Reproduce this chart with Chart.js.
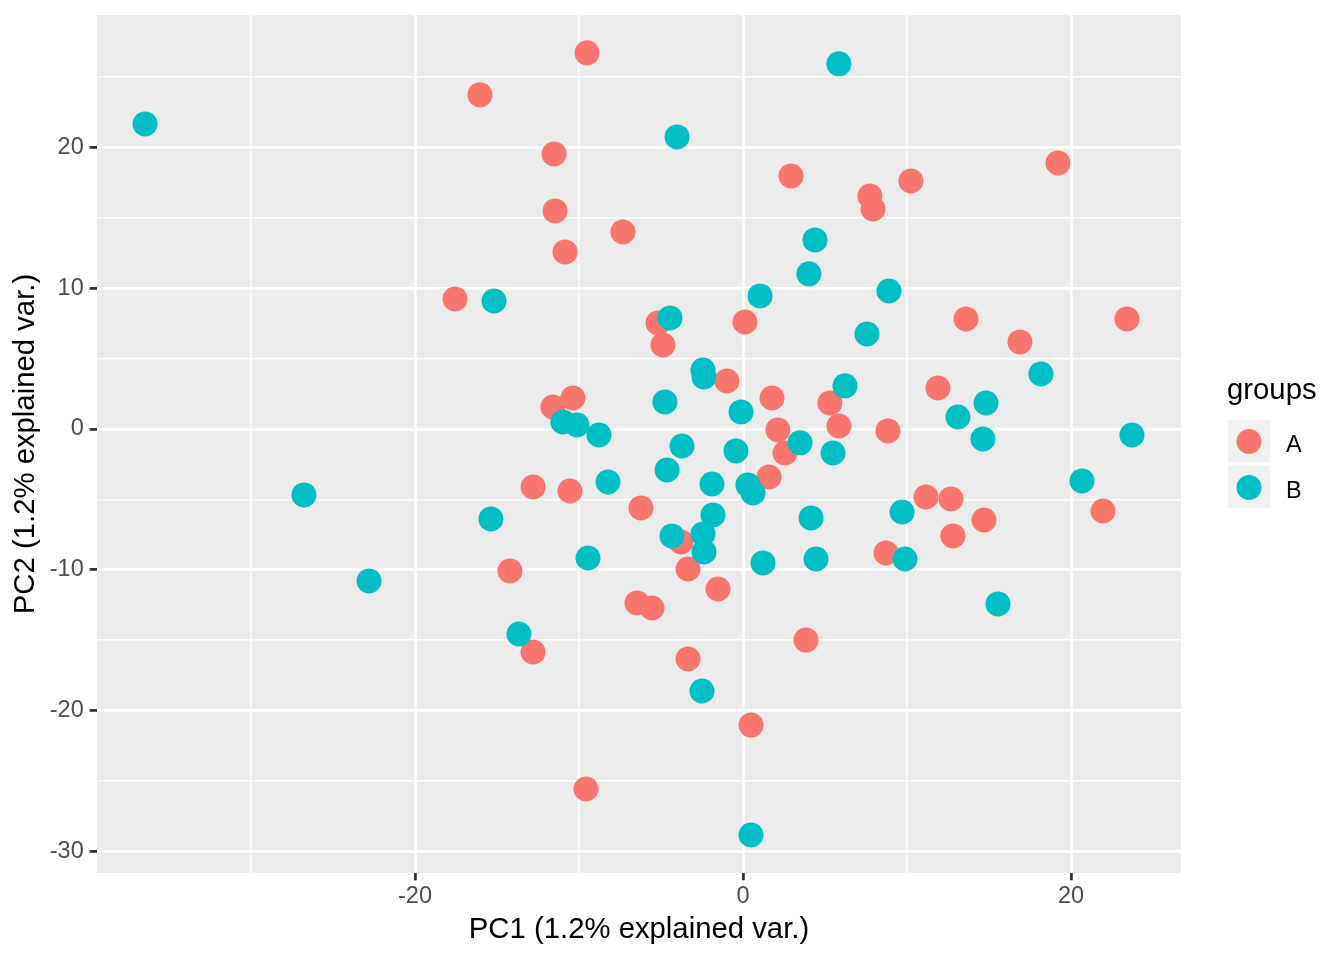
<!DOCTYPE html>
<html>
<head>
<meta charset="utf-8">
<title>PCA groups</title>
<script src="https://cdn.jsdelivr.net/npm/chart.js@4.4.1/dist/chart.umd.min.js"></script>
<style>
	body { margin: 0; background: #fff; }
	canvas { display: block; }
</style>
</head>
<body>
<canvas id="pcaPlot" width="1344" height="960"></canvas>
<script>
'use strict'

// group A (red)
const pc1A = [-9.51, -16.04, -11.52, -11.46, -10.85, -7.32, -17.56, -5.18, -4.88, 0.12,
	2.93, 7.74, 7.93, 10.24, 19.21, 13.60, 16.89, 23.41, -0.98, 1.77,
	5.30, 2.13, 5.85, 2.56, 8.84, 11.89, 1.59, -11.59, -10.37, -12.80,
	-10.55, -6.22, -3.78, -3.35, -1.52, -14.21, -6.46, -5.55, -12.80, -3.35,
	3.84, 0.49, -9.57, 11.16, 12.68, 12.80, 14.70, 8.72, 21.95];
const pc2A = [26.72, 23.74, 19.54, 15.49, 12.58, 14.00, 9.24, 7.53, 5.97, 7.60,
	17.98, 16.55, 15.63, 17.62, 18.90, 7.82, 6.18, 7.82, 3.41, 2.20,
	1.85, -0.07, 0.21, -1.71, -0.14, 2.91, -3.41, 1.56, 2.20, -4.12,
	-4.41, -5.61, -8.03, -9.95, -11.37, -10.09, -12.36, -12.72, -15.85, -16.34,
	-15.00, -21.04, -25.58, -4.83, -4.97, -7.60, -6.47, -8.81, -5.83];

// group B (teal)
const pc1B = [-36.46, 5.85, -4.02, 4.39, 4.02, 1.04, 8.90, 7.56, -4.45, -15.18,
	-2.44, -2.38, 6.22, 18.17, 14.82, 13.11, 14.63, 23.72, -4.76, -0.12,
	-10.98, -10.12, -8.78, -3.72, -0.43, 3.48, 5.49, -4.63, -8.23, -1.89,
	0.30, 0.61, -1.83, -15.37, -26.77, -22.80, -9.45, -4.33, -2.44, -2.38,
	1.22, 4.15, 4.45, 9.70, 9.88, 20.67, 15.55, -13.66, -2.50, 0.49];
const pc2B = [21.67, 25.94, 20.75, 13.43, 11.02, 9.45, 9.80, 6.75, 7.89, 9.09,
	4.19, 3.69, 3.06, 3.91, 1.85, 0.85, -0.71, -0.43, 1.92, 1.21,
	0.50, 0.28, -0.43, -1.21, -1.56, -0.99, -1.71, -2.91, -3.77, -3.91,
	-3.98, -4.55, -6.11, -6.39, -4.69, -10.80, -9.17, -7.60, -7.46, -8.74,
	-9.52, -6.32, -9.24, -5.90, -9.24, -3.69, -12.43, -14.57, -18.62, -28.85];

const groupNames = ['A', 'B'];
const groupColors = ['#F8766D', '#00BFC4'];

const fontFamily = '"Liberation Sans", Arial, sans-serif';
Chart.defaults.font.family = fontFamily;

const toPoints = (xs, ys) => xs.map((x, i) => ({x: x, y: ys[i]}));

const panelBackground = {
	id: 'panelBackground',
	beforeDraw(chart) {
		const {ctx, chartArea: {left, top, width, height}} = chart;
		ctx.save();
		ctx.fillStyle = '#FFFFFF';
		ctx.fillRect(0, 0, chart.width, chart.height);
		ctx.fillStyle = '#EBEBEB';
		ctx.fillRect(left, top, width, height);
		ctx.restore();
	},
};

// ggplot style legend on the right
const groupLegend = {
	id: 'groupLegend',
	afterDraw(chart) {
		const {ctx} = chart;
		ctx.save();
		ctx.textAlign = 'left';
		ctx.textBaseline = 'alphabetic';
		ctx.fillStyle = '#000000';
		ctx.font = '29.3px ' + fontFamily;
		ctx.fillText('groups', 1227, 398.5);

		groupNames.forEach((name, i) => {
			const top = 420 + i * 46;
			ctx.fillStyle = '#F2F2F2';
			ctx.fillRect(1228, top, 42, 42);
			ctx.fillStyle = groupColors[i];
			ctx.beginPath();
			ctx.arc(1249, top + 21.5, 12.5, 0, Math.PI * 2);
			ctx.fill();
			ctx.fillStyle = '#000000';
			ctx.font = '23.5px ' + fontFamily;
			ctx.fillText(name, 1286, top + 31.5);
		});
		ctx.restore();
	},
};

const gridWidth = (step) => (c) => (c.tick && c.tick.value % step === 0 ? 2.8 : 1.4);
const tickMarkColor = (step) => (c) => (c.tick && c.tick.value % step === 0 ? '#333333' : 'rgba(0,0,0,0)');

new Chart(document.getElementById('pcaPlot'), {
	type: 'scatter',
	data: {
		datasets: [
			{
				label: groupNames[0],
				data: toPoints(pc1A, pc2A),
				backgroundColor: groupColors[0],
				borderWidth: 0,
				pointRadius: 12.5,
				pointHoverRadius: 12.5,
				order: 1,
			},
			{
				label: groupNames[1],
				data: toPoints(pc1B, pc2B),
				backgroundColor: groupColors[1],
				borderWidth: 0,
				pointRadius: 12.5,
				pointHoverRadius: 12.5,
				order: 0,
			},
		],
	},
	options: {
		responsive: false,
		animation: false,
		events: [],
		layout: {
			padding: {top: 15, right: 163, bottom: 0, left: 0},
		},
		plugins: {
			legend: {display: false},
			tooltip: {enabled: false},
		},
		scales: {
			x: {
				type: 'linear',
				position: 'bottom',
				min: -39.39,
				max: 26.71,
				afterFit(scale) {
					scale.height = 87;
					scale.paddingLeft = 0;
					scale.paddingRight = 0;
				},
				border: {display: false},
				grid: {
					color: '#FFFFFF',
					lineWidth: gridWidth(20),
					tickColor: tickMarkColor(20),
					tickWidth: 2.8,
					tickLength: 7.3,
				},
				ticks: {
					stepSize: 10,
					includeBounds: false,
					autoSkip: false,
					maxRotation: 0,
					padding: 2,
					color: '#4D4D4D',
					font: {size: 23.5},
					callback: (v) => (v % 20 === 0 ? String(v) : ''),
				},
				title: {
					display: true,
					text: 'PC1 (1.2% explained var.)',
					color: '#000000',
					font: {size: 29.3},
					padding: {top: 0, bottom: 13},
				},
			},
			y: {
				type: 'linear',
				min: -31.55,
				max: 29.41,
				afterFit(scale) {
					scale.width = 97;
					scale.paddingTop = 0;
					scale.paddingBottom = 0;
				},
				border: {display: false},
				grid: {
					color: '#FFFFFF',
					lineWidth: gridWidth(10),
					tickColor: tickMarkColor(10),
					tickWidth: 2.8,
					tickLength: 7.3,
				},
				ticks: {
					stepSize: 5,
					includeBounds: false,
					autoSkip: false,
					padding: 6,
					color: '#4D4D4D',
					font: {size: 23.5},
					callback: (v) => (v % 10 === 0 ? String(v) : ''),
				},
				title: {
					display: true,
					text: 'PC2 (1.2% explained var.)',
					color: '#000000',
					font: {size: 29.3},
					padding: {top: 8, bottom: 0},
				},
			},
		},
	},
	plugins: [panelBackground, groupLegend],
});
</script>
</body>
</html>
